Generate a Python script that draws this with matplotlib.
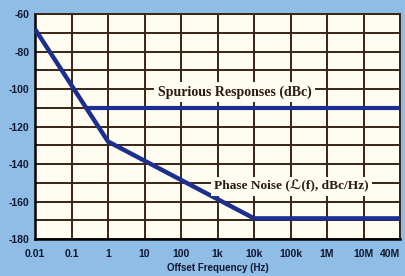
import matplotlib

matplotlib.use("Agg")

import matplotlib.pyplot as plt


# offset frequency axis: equally spaced positions, one per label
freq_labels = ["0.01", "0.1", "1", "10", "100", "1k", "10k", "100k", "1M", "10M", "40M"]

# phase noise curve (frequency label, dBc/Hz)
noise_freqs = ["0.01", "1", "10k", "40M"]
noise_levels = [-68, -128, -169, -169]

# spurious responses (starts where it meets the noise curve, ~0.25 Hz)
spur_start = 1.4
spur_level = -110

y_ticks = [-60, -80, -100, -120, -140, -160, -180]

bg = "#8fbde6"
ink = "#101830"
grid_col = "#3a2414"
line_col = "#1c2f8f"

plt.rcParams["axes.unicode_minus"] = False

fig = plt.figure(figsize=(4.05, 2.76), dpi=100, facecolor=bg)
ax = fig.add_axes([0.0864, 0.134, 0.9016, 0.815])
ax.set_facecolor("#fffcf2")

pos = {lab: i for i, lab in enumerate(freq_labels)}

ax.plot(
    [pos[f] for f in noise_freqs],
    noise_levels,
    color=line_col,
    lw=3.2,
    solid_capstyle="butt",
    zorder=3,
)

ax.plot(
    [spur_start, pos["40M"]],
    [spur_level, spur_level],
    color=line_col,
    lw=3.0,
    solid_capstyle="butt",
    zorder=3,
)

ax.set_xlim(0, len(freq_labels) - 1)
ax.set_ylim(-180, -60)

ax.set_xticks(range(len(freq_labels)))
ax.set_xticklabels(freq_labels)
ax.set_yticks(y_ticks)
ax.set_yticks(range(-170, -60, 20), minor=True)

ax.grid(True, which="both", color=grid_col, lw=1.4, zorder=1)
ax.tick_params(which="both", length=0, pad=4, colors=ink, labelsize=7.5)
ax.tick_params(axis="x", pad=7)
for lab in ax.get_xticklabels() + ax.get_yticklabels():
    lab.set_fontweight("bold")
    lab.set_family("Liberation Sans")
ax.get_xticklabels()[-1].set_horizontalalignment("right")

for sp in ax.spines.values():
    sp.set_color(grid_col)
    sp.set_linewidth(1.4)
ax.spines["left"].set_color("#000000")
ax.spines["bottom"].set_color("#000000")
ax.spines["left"].set_linewidth(1.8)
ax.spines["bottom"].set_linewidth(1.8)

ax.set_xlabel(
    "Offset Frequency (Hz)",
    fontsize=7,
    fontweight="bold",
    family="Liberation Sans",
    color=ink,
    labelpad=3,
)

serif = ["Liberation Serif", "DejaVu Serif", "DejaVu Sans", "Noto Sans"]
box = dict(facecolor="#fffcf2", edgecolor="none", pad=2.5)
ax.text(
    5.47, -101.5,
    "Spurious Responses (dBc)",
    ha="center", va="center",
    fontsize=10, fontweight="bold",
    family=serif,
    color="#2a1a10", bbox=box, zorder=4,
)
ax.text(
    7.03, -152,
    "Phase Noise (\u2112(f), dBc/Hz)",
    ha="center", va="center",
    fontsize=9.6, fontweight="bold",
    family=serif,
    color="#2a1a10", bbox=box, zorder=4,
)

fig.savefig("out.png", dpi=100, facecolor=bg)
